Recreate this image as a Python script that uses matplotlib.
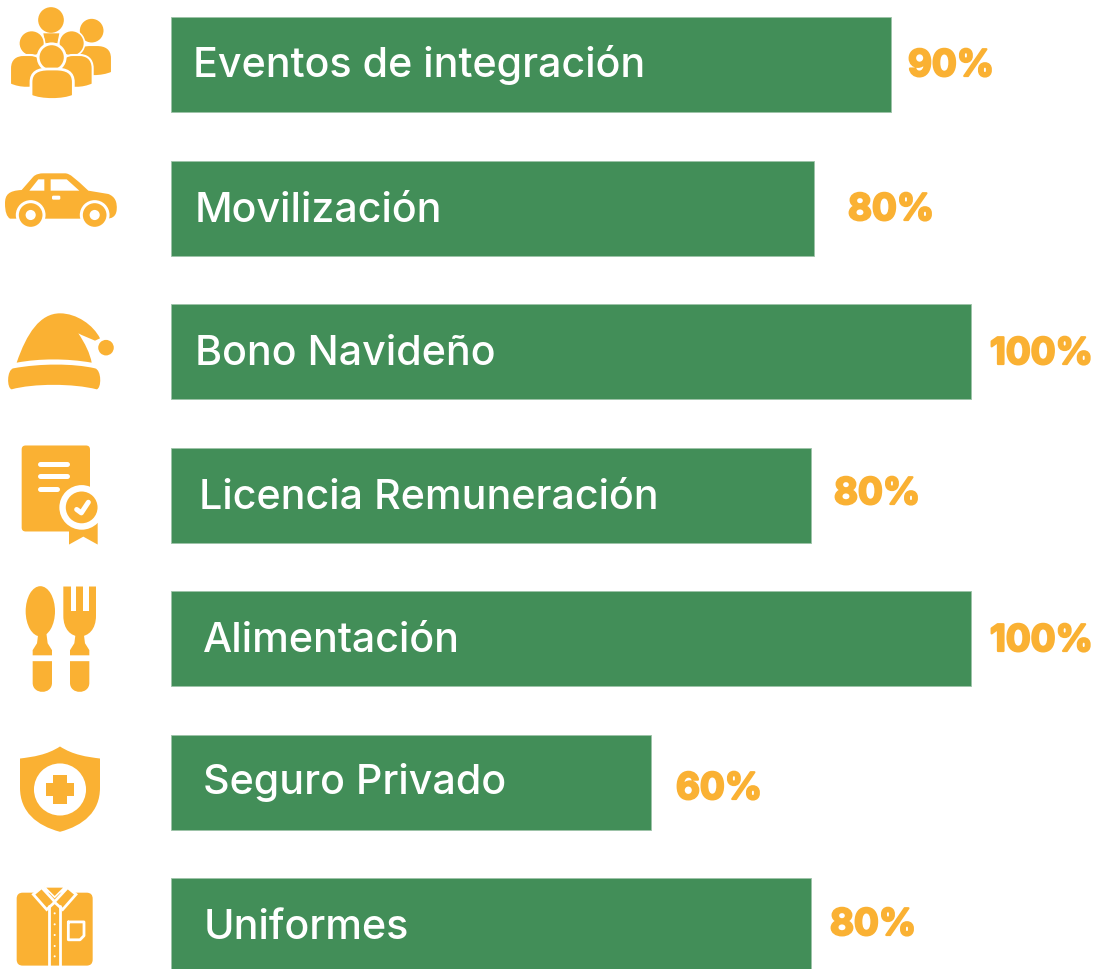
import matplotlib
matplotlib.use('Agg')
import matplotlib.pyplot as plt
import matplotlib.patheffects as pe
from matplotlib.patches import Circle, Ellipse, FancyBboxPatch, PathPatch, Polygon, Rectangle
from matplotlib.path import Path

categories = ['Eventos de integración', 'Movilización', 'Bono Navideño', 'Licencia Remuneración',
              'Alimentación', 'Seguro Privado', 'Uniformes']
values = [90, 80.4, 100, 80, 100, 60, 80]  # bar lengths as drawn, Movilización runs a bit long
pct_labels = ['90%', '80%', '100%', '80%', '100%', '60%', '80%']

GREEN = '#428E58'
ORANGE = '#FAB133'
W, H = 1097, 969

# text placement in pixels, the labels are not aligned in the original
label_x = [193, 195, 195, 199, 203, 203, 204]
label_y = [61, 207, 350, 494, 637, 778, 924]
pct_x = [908, 848, 990, 834, 990, 676, 830]
pct_y = [63, 207, 351, 491, 638, 786, 922]

fig = plt.figure(figsize=(W / 100, H / 100), dpi=100)

# --------------------------- BARS ---------------------------
# 8 px per percent starting at x=171, one row every 143.5 px
ax = fig.add_axes([0, 0, 1, 1])
ax.barh(range(len(values)), values, height=95 / 143.5, color=GREEN, edgecolor='#9DC3A8', linewidth=0.6)
ax.set_xlim(-171 / 8, (W - 171) / 8)
ax.set_ylim((H - 64.5) / 143.5, -64.5 / 143.5)
ax.axis('off')

# --------------------------- TEXT AND ICONS (pixel axes) ---------------------------
px = fig.add_axes([0, 0, 1, 1])
px.set_xlim(0, W)
px.set_ylim(H, 0)
px.axis('off')
px.patch.set_alpha(0)

for i in range(len(categories)):
    px.text(label_x[i], label_y[i], categories[i], color='white', fontsize=29.7, family='Inter',
            fontweight='medium', va='center_baseline', ha='left')
    px.text(pct_x[i], pct_y[i], pct_labels[i], color=ORANGE, fontsize=26.5, family='Inter',
            fontweight='bold', va='center_baseline', ha='left',
            path_effects=[pe.withStroke(linewidth=1.6, foreground=ORANGE)])


def X(x):
    return x / 3


def Y(y, off):
    return y * 0.344 + off if off else y / 3


def make_path(cmds, off):
    verts, codes = [], []
    for c in cmds:
        if c[0] == 'M':
            verts.append(c[1]); codes.append(Path.MOVETO)
        elif c[0] == 'L':
            verts.append(c[1]); codes.append(Path.LINETO)
        elif c[0] == 'C':
            verts.extend(c[1:]); codes.extend([Path.CURVE4] * 3)
    verts.append(verts[0]); codes.append(Path.CLOSEPOLY)
    return Path([(X(x), Y(y, off)) for x, y in verts], codes)


def shape(cmds, off=0, color=ORANGE, ec='none', lw=0):
    px.add_patch(PathPatch(make_path(cmds, off), fc=color, ec=ec, lw=lw))


def poly(pts, off=0, color=ORANGE, ec='none', lw=0):
    px.add_patch(Polygon([(X(x), Y(y, off)) for x, y in pts], closed=True, fc=color, ec=ec, lw=lw))


def circ(x, y, r, off=0, color=ORANGE, ec='none', lw=0):
    px.add_patch(Circle((X(x), Y(y, off)), r * 0.338, fc=color, ec=ec, lw=lw))


def rrect(x0, y0, x1, y1, r, off=0, color=ORANGE):
    r3 = r / 3
    px.add_patch(FancyBboxPatch((X(x0) + r3, Y(y0, off) + r3), X(x1) - X(x0) - 2 * r3, Y(y1, off) - Y(y0, off) - 2 * r3,
                                boxstyle='round,pad=%f' % r3, fc=color, ec='none'))


def seg(pts, off=0, color='white', lw=2.0):
    px.plot([X(p[0]) for p in pts], [Y(p[1], off) for p in pts], color=color, lw=lw, solid_capstyle='round')


def body(x0, x1, top, bot):
    # shoulders with a slightly curved hem
    m = (x0 + x1) / 2
    return [('M', (x0, bot - 12)), ('L', (x0, top + 40)),
            ('C', (x0, top + 10), (x0 + 20, top), (m - 10, top)),
            ('L', (m + 10, top)),
            ('C', (x1 - 20, top), (x1, top + 10), (x1, top + 40)),
            ('L', (x1, bot - 12)),
            ('C', (x1 - 30, bot + 2), (x0 + 30, bot + 2), (x0, bot - 12))]


# people
circ(153, 60, 38)
poly([(130, 100), (178, 100), (172, 130), (136, 130)])
circ(275, 92, 35)
shape(body(225, 336, 135, 230), ec='white', lw=1.5)
circ(95, 130, 38, ec='white', lw=1.2)
shape(body(30, 130, 165, 265), ec='white', lw=1.5)
circ(215, 130, 38, ec='white', lw=1.2)
shape(body(180, 278, 165, 265), ec='white', lw=1.5)
circ(155, 172, 40, ec='white', lw=2)
shape(body(93, 220, 207, 300), ec='white', lw=2)

# car
shape([('M', (15, 610)), ('C', (15, 585), (25, 572), (65, 570)), ('L', (100, 530)),
       ('C', (108, 522), (120, 520), (130, 520)), ('L', (195, 520)), ('C', (210, 520), (225, 535), (265, 572)),
       ('L', (325, 582)), ('C', (345, 590), (352, 605), (350, 630)), ('C', (348, 650), (335, 656), (320, 656)),
       ('L', (30, 656)), ('C', (20, 650), (15, 635), (15, 610))])
poly([(88, 572), (115, 538), (133, 538), (133, 572)], color='white')
poly([(152, 538), (200, 538), (238, 572), (152, 572)], color='white')
rrect(156, 587, 181, 599, 4, color='white')
for cx in (92, 284):
    circ(cx, 645, 44, color='white')
    circ(cx, 645, 35)
    circ(cx, 645, 15, color='white')

# hat
shape([('M', (50, 1088)), ('C', (80, 1000), (120, 940), (180, 940)), ('C', (230, 940), (280, 975), (300, 1015)),
       ('L', (285, 1022)), ('L', (245, 1005)), ('L', (235, 1000)), ('C', (255, 1030), (270, 1060), (275, 1088)),
       ('C', (200, 1075), (120, 1075), (50, 1088))])
shape([('M', (40, 1105)), ('C', (120, 1090), (220, 1090), (285, 1105)), ('C', (305, 1110), (305, 1165), (290, 1168)),
       ('C', (220, 1150), (100, 1150), (35, 1168)), ('C', (20, 1165), (20, 1110), (40, 1105))])
circ(318, 1043, 23)

# certificate
off = 430
rrect(65, 45, 270, 295, 12, off)
seg([(120, 100), (200, 100)], off, lw=3.6)
seg([(120, 135), (200, 135)], off, lw=3.6)
seg([(120, 172), (170, 172)], off, lw=3.6)
poly([(207, 270), (293, 270), (293, 333), (250, 310), (207, 333)], off)
circ(245, 225, 66, off, color='white')
circ(245, 225, 47, off)
seg([(230, 231), (244, 241), (265, 210)], off, lw=3.6)

# spoon and fork
px.add_patch(Ellipse((X(121), Y(527, off)), 88 / 3, 146 * 0.344, fc=ORANGE, ec='none'))
shape([('M', (190, 455)), ('L', (288, 455)), ('L', (288, 540)), ('C', (288, 580), (265, 600), (239, 600)),
       ('C', (213, 600), (190, 580), (190, 540))], off)
for x0 in (212, 249):
    px.add_patch(Rectangle((X(x0), Y(450, off)), 17 / 3, 77 * 0.344, fc='white', ec='none'))
for cx in (127, 239):
    poly([(cx - 12, 590), (cx + 12, 590), (cx + 16, 620), (cx + 29, 640), (cx + 29, 655), (cx - 29, 655), (cx - 29, 640), (cx - 16, 620)], off)
    shape([('M', (cx - 29, 672)), ('L', (cx + 29, 672)), ('L', (cx + 29, 735)), ('C', (cx + 29, 770), (cx - 29, 770), (cx - 29, 735))], off)

# shield
shape([('M', (180, 920)), ('C', (140, 945), (100, 950), (60, 955)), ('L', (60, 1040)), ('C', (60, 1110), (110, 1150), (180, 1168)),
       ('C', (250, 1150), (300, 1110), (300, 1040)), ('L', (300, 955)), ('C', (260, 950), (220, 945), (180, 920))], off)
circ(180, 1045, 77, off, color='white')
poly([(160, 1003), (200, 1003), (200, 1025), (222, 1025), (222, 1065), (200, 1065), (200, 1087), (160, 1087), (160, 1065), (138, 1065), (138, 1025), (160, 1025)], off)

# shirt
rrect(50, 1345, 278, 1557, 18, off)
seg([(147, 1385), (147, 1557)], off, lw=2)
seg([(180, 1385), (180, 1557)], off, lw=2)
for y in (1405, 1437, 1468, 1500, 1530):
    circ(164, y, 3, off, color='white')
poly([(133, 1328), (195, 1328), (164, 1358)], off, ec='white', lw=1.2)
poly([(100, 1350), (125, 1330), (165, 1372), (140, 1394)], off, ec='white', lw=2)
poly([(228, 1350), (203, 1330), (163, 1372), (188, 1394)], off, ec='white', lw=2)
seg([(205, 1430), (252, 1430), (252, 1470), (240, 1482), (205, 1482), (205, 1430)], off, lw=2)

fig.savefig('out.png', dpi=100, facecolor='white')
